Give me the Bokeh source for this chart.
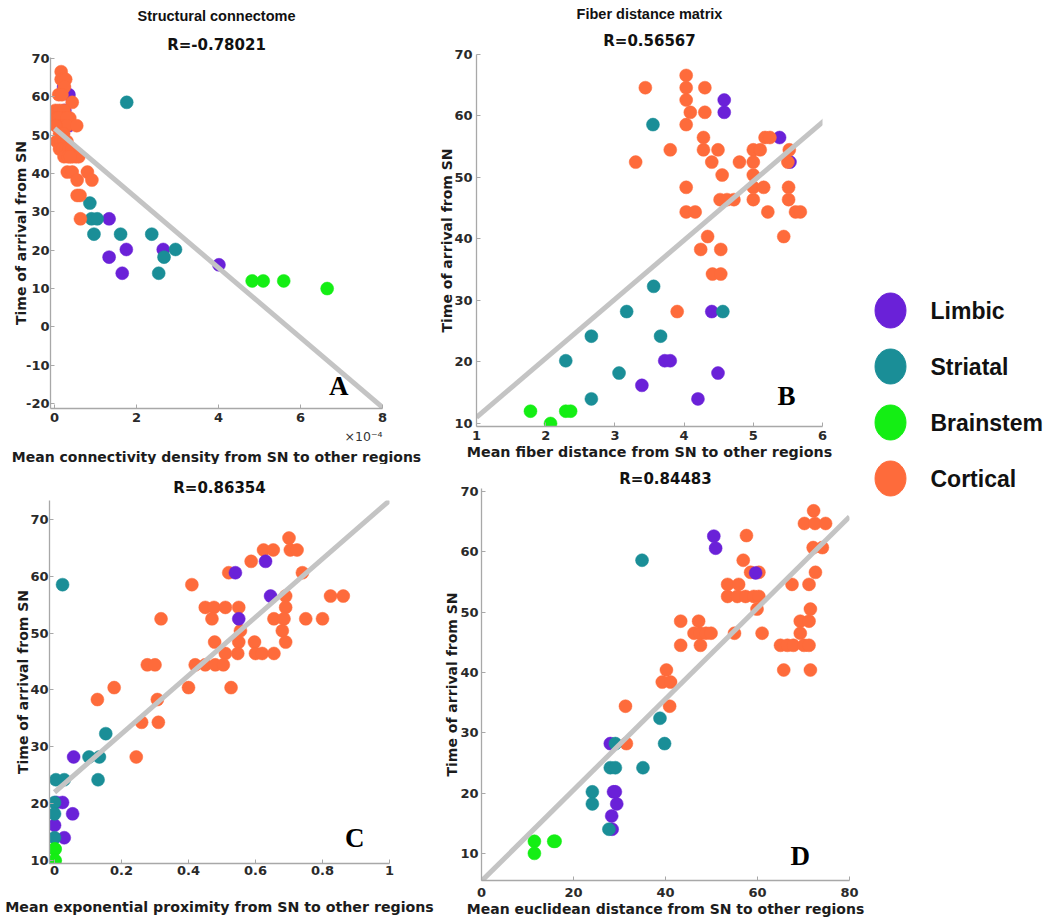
from bokeh.plotting import figure
from bokeh.layouts import row, column
from bokeh.models import Range1d, FixedTicker, CustomJSTickFormatter, Title, Label
from bokeh.embed import file_html
from bokeh.resources import INLINE
from bokeh.core.properties import value

CATEGORIES = ["Limbic", "Striatal", "Brainstem", "Cortical"]
COLORS = {"Limbic": "#6a21d8", "Striatal": "#1a8e97", "Brainstem": "#14ee14", "Cortical": "#fe6b3b"}

# ---------------- Panel A: structural connectome (x in units of 1e-4) ----------------
A_limbic_x = [0.35, 0.35, 0.22, 0.25, 1.33, 1.75, 2.65, 1.33, 4.01, 1.65]
A_limbic_y = [60.6, 52.5, 62.6, 56.5, 28.2, 20.2, 20.2, 18.2, 16.2, 14.0]
A_striatal_x = [1.76, 0.86, 0.90, 1.04, 0.96, 1.61, 2.37, 2.95, 2.67, 2.54]
A_striatal_y = [58.6, 32.3, 28.2, 28.2, 24.2, 24.2, 24.2, 20.2, 18.2, 14.0]
A_brainstem_x = [4.82, 5.09, 5.59, 6.65]
A_brainstem_y = [12.0, 12.0, 12.0, 10.0]
A_cortical_x = [0.16, 0.16, 0.22, 0.27, 0.24, 0.10, 0.18, 0.43, 0.02, 0.12, 0.23,
                0.05, 0.15, 0.25, 0.37, 0.10, 0.30, 0.10, 0.20, 0.30, 0.54, 0.03,
                0.12, 0.22, 0.05, 0.15, 0.22, 0.30, 0.12, 0.20, 0.28, 0.35, 0.42,
                0.23, 0.33, 0.43, 0.52, 0.59, 0.38, 0.31, 0.43, 0.80, 0.55, 0.91,
                0.55, 0.62, 0.63]
A_cortical_y = [66.6, 64.6, 64.6, 64.6, 62.6, 60.6, 60.6, 58.6, 56.5, 56.5, 56.5,
                54.5, 54.5, 54.5, 54.5, 54.5, 54.5, 52.5, 52.5, 52.5, 52.5, 52.5,
                50.4, 50.4, 48.4, 48.4, 48.4, 48.4, 46.4, 46.4, 46.4, 46.4, 46.4,
                44.4, 44.4, 44.4, 44.4, 44.4, 44.4, 40.4, 40.4, 40.4, 38.3, 38.3,
                34.3, 34.3, 28.2]
A_fit = (51.8, -9.1)          # intercept, slope
A_xticks = [0, 2, 4, 6, 8]
A_yticks = [-20, -10, 0, 10, 20, 30, 40, 50, 60, 70]

# ---------------- Panel B: fiber distance matrix ----------------
B_limbic_x = [4.58, 4.58, 5.38, 5.53, 4.40, 3.72, 3.80, 4.49, 3.39, 4.20]
B_limbic_y = [62.6, 60.6, 56.5, 52.5, 28.2, 20.2, 20.2, 18.2, 16.2, 14.0]
B_striatal_x = [3.55, 3.56, 3.17, 4.56, 2.66, 3.66, 2.29, 3.06, 2.66]
B_striatal_y = [58.6, 32.3, 28.2, 28.2, 24.2, 24.2, 20.2, 18.2, 14.0]
B_brainstem_x = [1.78, 2.07, 2.29, 2.36]
B_brainstem_y = [12.0, 10.0, 12.0, 12.0]
B_cortical_x = [4.03, 3.44, 4.03, 4.30, 4.03, 4.09, 4.30, 4.03, 4.28, 5.17, 5.24,
                3.80, 4.28, 4.49, 5.00, 5.10, 5.52, 3.30, 4.40, 4.80, 5.00, 5.50,
                4.55, 5.00, 4.03, 5.00, 5.15, 5.51, 4.52, 4.62, 4.72, 5.00, 5.51,
                4.03, 4.16, 5.21, 5.61, 5.68, 4.34, 5.44, 4.24, 4.53, 4.41, 4.53, 3.90]
B_cortical_y = [66.6, 64.6, 64.6, 64.6, 62.6, 60.6, 60.6, 58.6, 56.5, 56.5, 56.5,
                54.5, 54.5, 54.5, 54.5, 54.5, 54.5, 52.5, 52.5, 52.5, 52.5, 52.5,
                50.4, 50.4, 48.4, 48.4, 48.4, 48.4, 46.4, 46.4, 46.4, 46.4, 46.4,
                44.4, 44.4, 44.4, 44.4, 44.4, 40.4, 40.4, 38.3, 38.3, 34.3, 34.3, 28.2]
B_fit = (1.4, 9.6)
B_xticks = [1, 2, 3, 4, 5, 6]
B_yticks = [10, 20, 30, 40, 50, 60, 70]

# ---------------- Panel C: exponential proximity ----------------
C_limbic_x = [0.54, 0.63, 0.645, 0.55, 0.057, 0.024, 0.005, 0.054, 0.0, 0.029]
C_limbic_y = [60.6, 62.6, 56.5, 52.5, 28.2, 20.2, 20.2, 18.2, 16.2, 14.0]
C_striatal_x = [0.024, 0.153, 0.103, 0.134, 0.13, 0.004, 0.029, 0.0, 0.0, 0.0]
C_striatal_y = [58.5, 32.3, 28.2, 28.2, 24.2, 24.2, 24.2, 20.2, 18.2, 14.0]
C_brainstem_x = [0.0, 0.002, 0.0, 0.002]
C_brainstem_y = [12.0, 12.0, 10.0, 10.0]
C_cortical_x = [0.70, 0.624, 0.653, 0.704, 0.724, 0.587, 0.52, 0.74, 0.41,
                0.69, 0.824, 0.862, 0.45, 0.476, 0.51, 0.55, 0.69,
                0.318, 0.47, 0.655, 0.685, 0.75, 0.80, 0.555, 0.68,
                0.478, 0.55, 0.597, 0.69, 0.51, 0.547, 0.60, 0.62, 0.655,
                0.277, 0.30, 0.42, 0.45, 0.48, 0.504, 0.178, 0.40, 0.527,
                0.128, 0.307, 0.26, 0.31, 0.244]
C_cortical_y = [66.7, 64.6, 64.6, 64.6, 64.6, 62.6, 60.6, 60.6, 58.5,
                56.5, 56.5, 56.5, 54.5, 54.5, 54.5, 54.5, 54.5,
                52.5, 52.5, 52.5, 52.5, 52.5, 52.5, 50.4, 50.4,
                48.4, 48.4, 48.4, 48.4, 46.4, 46.4, 46.4, 46.4, 46.4,
                44.4, 44.4, 44.4, 44.4, 44.4, 44.4, 40.4, 40.4, 40.4,
                38.3, 38.3, 34.3, 34.3, 28.2]
C_fit = (22.0, 51.3)
C_xticks = [0, 0.2, 0.4, 0.6, 0.8, 1]
C_yticks = [10, 20, 30, 40, 50, 60, 70]

# ---------------- Panel D: euclidean distance ----------------
D_limbic_x = [50.5, 50.9, 59.6, 28.0, 28.7, 29.1, 29.4, 28.3, 28.4]
D_limbic_y = [62.6, 60.6, 56.5, 28.2, 20.2, 20.2, 18.2, 16.2, 14.0]
D_striatal_x = [34.9, 38.8, 39.8, 29.1, 28.0, 29.1, 35.1, 24.1, 24.1, 27.7]
D_striatal_y = [58.6, 32.4, 28.2, 28.2, 24.2, 24.2, 24.2, 20.2, 18.2, 14.0]
D_brainstem_x = [11.5, 11.5, 15.7, 16.0]
D_brainstem_y = [12.0, 10.0, 12.0, 12.0]
D_cortical_x = [72.2, 70.2, 72.5, 74.8, 57.6, 72.1, 74.1, 56.9, 58.5, 60.3, 72.6,
                53.5, 55.9, 67.5, 71.2, 53.5, 55.6, 57.4, 59.2, 60.3, 59.9, 71.5,
                43.3, 47.2, 69.3, 71.2, 46.2, 47.5, 48.8, 49.9, 55.0, 61.0, 69.3,
                43.3, 47.6, 65.0, 66.5, 67.8, 70.1, 71.2, 40.2, 65.7, 71.5,
                39.3, 41.1, 31.3, 40.9, 31.5]
D_cortical_y = [66.8, 64.7, 64.7, 64.7, 62.7, 60.7, 60.7, 58.6, 56.6, 56.6, 56.6,
                54.6, 54.6, 54.6, 54.6, 52.6, 52.6, 52.6, 52.6, 52.6, 50.5, 50.5,
                48.5, 48.5, 48.5, 48.5, 46.5, 46.5, 46.5, 46.5, 46.5, 46.5, 46.5,
                44.5, 44.5, 44.5, 44.5, 44.5, 44.5, 44.5, 40.4, 40.4, 40.4,
                38.4, 38.4, 34.4, 34.4, 28.2]
D_fit = (5.4, 0.755)
D_xticks = [0, 20, 40, 60, 80]
D_yticks = [10, 20, 30, 40, 50, 60, 70]

R_TEXTS = {"A": "R=-0.78021", "B": "R=0.56567", "C": "R=0.86354", "D": "R=0.84483"}
TOP_TEXTS = {"A": "Structural connectome", "B": "Fiber distance matrix"}
X_LABELS = {"A": "Mean connectivity density from SN to other regions",
            "B": "Mean fiber distance from SN to other regions",
            "C": "Mean exponential proximity from SN to other regions",
            "D": "Mean euclidean distance from SN to other regions"}
Y_LABEL = "Time of arrival from SN"
A_X_EXPONENT = "\u00d710\u207b\u2074"

AXIS_GREY = "#a8a8a8"
LINE_GREY = "#c4c4c4"
TEXT_DARK = "#1c1c1c"

PLAIN_FMT = "return String(Math.round(tick * 10) / 10);"


def make_panel(key, data, order, fit, x_range, y_range, fit_span, xticks, yticks,
               width, height, borders, letter_pos, x_lab_standoff=0,
               y_lab_standoff=1, x_tick_standoff=4, y_tick_standoff=5, r_standoff=4,
               top_standoff=10, x_label_as_title=False, x_label_size="14px"):
    p = figure(width=width, height=height, title=None,
               x_range=Range1d(*x_range), y_range=Range1d(*y_range),
               output_backend="svg", toolbar_location=None,
               min_border_left=borders[0], min_border_right=borders[1],
               min_border_top=borders[2], min_border_bottom=borders[3])
    p.outline_line_color = None
    p.grid.visible = False
    p.background_fill_color = "white"
    p.border_fill_color = "white"

    for ax in (p.xaxis[0], p.yaxis[0]):
        ax.axis_line_color = AXIS_GREY
        ax.axis_line_width = 1.3
        ax.major_tick_line_color = AXIS_GREY
        ax.major_tick_in = 4
        ax.major_tick_out = 0
        ax.minor_tick_line_color = None
        ax.major_label_text_font = "DejaVu Sans"
        ax.major_label_text_font_style = "bold"
        ax.major_label_text_font_size = "13px"
        ax.major_label_text_color = "#2a2a2a"
        ax.axis_label_text_font = "DejaVu Sans"
        ax.axis_label_text_font_style = "bold"
        ax.axis_label_text_font_size = "14px"
        ax.axis_label_text_color = TEXT_DARK
        ax.formatter = CustomJSTickFormatter(code=PLAIN_FMT)
    p.xaxis[0].ticker = FixedTicker(ticks=xticks)
    p.yaxis[0].ticker = FixedTicker(ticks=yticks)
    p.yaxis[0].axis_label = Y_LABEL
    p.xaxis[0].axis_label_standoff = x_lab_standoff
    p.yaxis[0].axis_label_standoff = y_lab_standoff
    p.xaxis[0].major_label_standoff = x_tick_standoff
    p.yaxis[0].major_label_standoff = y_tick_standoff
    if x_label_as_title:
        p.add_layout(Title(text=A_X_EXPONENT, align="right", text_font="DejaVu Sans",
                           text_font_size="12.5px", text_font_style="normal",
                           text_color="#333333", standoff=5), "below")
        p.add_layout(Title(text=X_LABELS[key], align="center", text_font="DejaVu Sans",
                           text_font_size=x_label_size, text_font_style="bold",
                           text_color=TEXT_DARK, standoff=0), "below")
    else:
        p.xaxis[0].axis_label = X_LABELS[key]
        p.xaxis[0].axis_label_text_font_size = x_label_size

    for cat in order:
        xs, ys = data[cat]
        p.scatter(x=xs, y=ys, size=13, fill_color=COLORS[cat], line_color=COLORS[cat],
                  line_width=0.5)

    b, m = fit
    p.line(x=[fit_span[0], fit_span[1]], y=[b + m * fit_span[0], b + m * fit_span[1]],
           line_color=LINE_GREY, line_width=5)

    p.add_layout(Label(x=letter_pos[0], y=letter_pos[1], text=key, text_font="Liberation Serif",
                       text_font_style="bold", text_font_size="27px", text_align="center",
                       text_baseline="middle", text_color="#000000"))

    p.add_layout(Title(text=R_TEXTS[key], align="center", text_font="DejaVu Sans",
                       text_font_size="15px", text_font_style="bold", text_color="#111111",
                       standoff=r_standoff), "above")
    if key in TOP_TEXTS:
        p.add_layout(Title(text=TOP_TEXTS[key], align="center", text_font="Liberation Sans",
                           text_font_size="14.5px", text_font_style="bold",
                           text_color="#111111", standoff=top_standoff), "above")
    return p


pA = make_panel("A", {"Limbic": (A_limbic_x, A_limbic_y), "Striatal": (A_striatal_x, A_striatal_y),
                      "Brainstem": (A_brainstem_x, A_brainstem_y), "Cortical": (A_cortical_x, A_cortical_y)},
                ["Limbic", "Striatal", "Brainstem", "Cortical"], A_fit,
                x_range=(-0.1, 8), y_range=(-21.3, 70.3), fit_span=(0, 8),
                xticks=A_xticks, yticks=A_yticks, width=430, height=464,
                borders=(50, 48, 57, 55), letter_pos=(6.93, -15.3),
                x_tick_standoff=4, y_tick_standoff=1, y_lab_standoff=-6,
                r_standoff=8, top_standoff=11, x_label_as_title=True)

pB = make_panel("B", {"Limbic": (B_limbic_x, B_limbic_y), "Striatal": (B_striatal_x, B_striatal_y),
                      "Brainstem": (B_brainstem_x, B_brainstem_y), "Cortical": (B_cortical_x, B_cortical_y)},
                ["Limbic", "Striatal", "Brainstem", "Cortical"], B_fit,
                x_range=(1, 6), y_range=(9.51, 70), fit_span=(1, 6.03),
                xticks=B_xticks, yticks=B_yticks, width=430, height=464,
                borders=(46, 38, 54, 38), letter_pos=(5.48, 14.55),
                x_lab_standoff=1, x_tick_standoff=4, y_tick_standoff=4, y_lab_standoff=-4,
                r_standoff=9, top_standoff=7, x_label_size="14.3px")

pC = make_panel("C", {"Limbic": (C_limbic_x, C_limbic_y), "Striatal": (C_striatal_x, C_striatal_y),
                      "Brainstem": (C_brainstem_x, C_brainstem_y), "Cortical": (C_cortical_x, C_cortical_y)},
                ["Cortical", "Limbic", "Striatal", "Brainstem"], C_fit,
                x_range=(-0.015, 1), y_range=(9.47, 73.3), fit_span=(0, 1),
                xticks=C_xticks, yticks=C_yticks, width=435, height=457,
                borders=(49, 46, 36, 58), letter_pos=(0.896, 13.9),
                x_lab_standoff=21, x_tick_standoff=2, y_tick_standoff=1, y_lab_standoff=-4,
                r_standoff=7, x_label_size="14.2px")

pD = make_panel("D", {"Limbic": (D_limbic_x, D_limbic_y), "Striatal": (D_striatal_x, D_striatal_y),
                      "Brainstem": (D_brainstem_x, D_brainstem_y), "Cortical": (D_cortical_x, D_cortical_y)},
                ["Cortical", "Limbic", "Striatal", "Brainstem"], D_fit,
                x_range=(0, 80), y_range=(5.5, 70.5), fit_span=(0, 80),
                xticks=D_xticks, yticks=D_yticks, width=435, height=457,
                borders=(46, 21, 24, 41), letter_pos=(69.3, 9.5),
                x_lab_standoff=1, x_tick_standoff=7, y_tick_standoff=3, y_lab_standoff=-3,
                r_standoff=1)

# ---------------- Legend column ----------------
LEG_W, LEG_H = 180, 921
leg = figure(width=LEG_W, height=LEG_H, x_range=Range1d(0, LEG_W), y_range=Range1d(LEG_H, 0),
             output_backend="svg", toolbar_location=None, min_border=0,
             x_axis_location=None, y_axis_location=None)
leg.outline_line_color = None
leg.grid.visible = False
leg_top, leg_step = 310, 56
leg_y = [leg_top + i * leg_step for i in range(len(CATEGORIES))]
leg.ellipse(x=[20] * len(CATEGORIES), y=leg_y, width=31, height=35,
            fill_color=[COLORS[c] for c in CATEGORIES], line_color=[COLORS[c] for c in CATEGORIES])
leg.text(x=[60] * len(CATEGORIES), y=leg_y, text=CATEGORIES, text_font=value("Liberation Sans"),
         text_font_style="bold", text_font_size="23px", text_baseline="middle", text_color="#111111")

layout = row(column(row(column(pA), column(pB)), row(column(pC), column(pD))), leg)

open("out.html", "w").write(file_html(layout, INLINE))
